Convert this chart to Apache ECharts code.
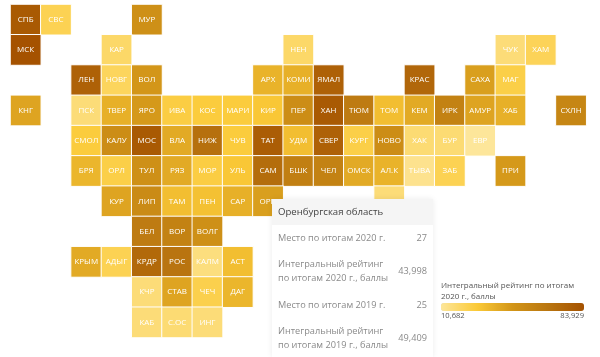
<!DOCTYPE html>
<html>
<head>
<meta charset="utf-8">
<title>Integral rating</title>
<style>
	html, body { margin: 0; padding: 0; background: #fff; }
	#hexmap { width: 600px; height: 357px; }
	.tip { width: 161px; height: 158px; font-family: 'Open Sans', sans-serif; font-size: 9.2px; color: #8a8a8a; }
	.tip-head { height: 26px; line-height: 26px; padding-left: 6px; background: #f5f5f5; color: #444; font-size: 9.6px; }
	.tip-row { display: flex; justify-content: space-between; align-items: center; padding: 0 6px; white-space: normal; line-height: 14px; }
	.tip-row span:first-child { width: 114px; }
</style>
</head>
<body>
<div id="hexmap"></div>
<script src="https://cdn.jsdelivr.net/npm/echarts@6/dist/echarts.min.js"></script>
<script>
	var names = [
		'СПБ', 'СВС', 'МУР',
		'МСК', 'КАР', 'НЕН', 'ЧУК', 'ХАМ',
		'ЛЕН', 'НОВГ', 'ВОЛ', 'АРХ', 'КОМИ', 'ЯМАЛ', 'КРАС', 'САХА', 'МАГ',
		'КНГ', 'ПСК', 'ТВЕР', 'ЯРО', 'ИВА', 'КОС', 'МАРИ', 'КИР', 'ПЕР', 'ХАН', 'ТЮМ', 'ТОМ', 'КЕМ', 'ИРК', 'АМУР', 'ХАБ', 'СХЛН',
		'СМОЛ', 'КАЛУ', 'МОС', 'ВЛА', 'НИЖ', 'ЧУВ', 'ТАТ', 'УДМ', 'СВЕР', 'КУРГ', 'НОВО', 'ХАК', 'БУР', 'ЕВР',
		'БРЯ', 'ОРЛ', 'ТУЛ', 'РЯЗ', 'МОР', 'УЛЬ', 'САМ', 'БШК', 'ЧЕЛ', 'ОМСК', 'АЛ.К', 'ТЫВА', 'ЗАБ', 'ПРИ',
		'КУР', 'ЛИП', 'ТАМ', 'ПЕН', 'САР', 'ОРН', 'АЛТ',
		'БЕЛ', 'ВОР', 'ВОЛГ',
		'КРЫМ', 'АДЫГ', 'КРДР', 'РОС', 'КАЛМ', 'АСТ',
		'КЧР', 'СТАВ', 'ЧЕЧ', 'ДАГ',
		'КАБ', 'С.ОС', 'ИНГ'
	];
	var cols = [
		0, 1, 4,
		0, 3, 9, 16, 17,
		2, 3, 4, 8, 9, 10, 13, 15, 16,
		0, 2, 3, 4, 5, 6, 7, 8, 9, 10, 11, 12, 13, 14, 15, 16, 18,
		2, 3, 4, 5, 6, 7, 8, 9, 10, 11, 12, 13, 14, 15,
		2, 3, 4, 5, 6, 7, 8, 9, 10, 11, 12, 13, 14, 16,
		3, 4, 5, 6, 7, 8, 12,
		4, 5, 6,
		2, 3, 4, 5, 6, 7,
		4, 5, 6, 7,
		4, 5, 6
	];
	var rows = [
		0, 0, 0,
		1, 1, 1, 1, 1,
		2, 2, 2, 2, 2, 2, 2, 2, 2,
		3, 3, 3, 3, 3, 3, 3, 3, 3, 3, 3, 3, 3, 3, 3, 3, 3,
		4, 4, 4, 4, 4, 4, 4, 4, 4, 4, 4, 4, 4, 4,
		5, 5, 5, 5, 5, 5, 5, 5, 5, 5, 5, 5, 5, 5,
		6, 6, 6, 6, 6, 6, 6,
		7, 7, 7,
		8, 8, 8, 8, 8, 8,
		9, 9, 9, 9,
		10, 10, 10
	];
	var scores = [
		80000, 24000, 50000,
		83929, 20000, 20000, 17000, 23000,
		76000, 22000, 47000, 37000, 38000, 76000, 73000, 44000, 26000,
		42000, 17000, 38000, 46000, 27000, 28000, 28000, 30000, 52000, 80000, 62000, 33000, 40000, 58000, 42000, 38000, 56000,
		28000, 52000, 80000, 40000, 68000, 28000, 78000, 33000, 76000, 26000, 52000, 18000, 18000, 10682,
		36000, 26000, 50000, 40000, 27000, 30000, 70000, 60000, 58000, 40000, 37000, 13000, 24000, 46000,
		42000, 53000, 33000, 32000, 38000, 43998, 17000,
		62000, 58000, 50000,
		40000, 24000, 72000, 66000, 16000, 33000,
		17000, 42000, 25000, 36000,
		17000, 18000, 17000
	];
	var colIndex = [0, 1, 2, 3, 4, 5, 6, 7, 8, 9, 10, 11, 12, 13, 14, 15, 16, 17, 18];
	var rowIndex = [0, 1, 2, 3, 4, 5, 6, 7, 8, 9, 10];
	var scoreRange = [10682, 83929];
	var rampColors = ['#fde69a', '#fbca38', '#d29518', '#b97510', '#a55200'];

	var legendTitle = 'Интегральный рейтинг по итогам\n2020 г., баллы';
	var tipRegion = 'ОРН';
	var tipTitle = 'Оренбургская область';
	var tipLabels = ['Место по итогам 2020 г.', 'Интегральный рейтинг по итогам 2020 г., баллы', 'Место по итогам 2019 г.', 'Интегральный рейтинг по итогам 2019 г., баллы'];
	var tipValues = ['27', '43,998', '25', '49,409'];
	var tipHeights = [26, 40, 27, 40];

	var cells = names.map(function(name, i) {
		return { name: name, value: [cols[i], rows[i], scores[i]] };
	});

	function tipHtml() {
		var html = '<div class="tip"><div class="tip-head">' + tipTitle + '</div>';
		tipLabels.forEach(function(label, i) {
			html += '<div class="tip-row" style="height:' + tipHeights[i] + 'px"><span>' + label + '</span><span>' + tipValues[i] + '</span></div>';
		});
		return html + '</div>';
	}

	var chart = echarts.init(document.getElementById('hexmap'));
	var option = {
		animation: false,
		title: {
			text: legendTitle,
			left: 441,
			top: 280,
			padding: 0,
			textStyle: {
				fontFamily: 'Open Sans',
				fontSize: 8,
				fontWeight: 'normal',
				lineHeight: 11,
				color: '#555'
			}
		},
		grid: {
			left: 10.5,
			top: 4.5,
			width: 575.7,
			height: 333
		},
		xAxis: {
			type: 'category',
			data: colIndex,
			show: false
		},
		yAxis: {
			type: 'category',
			data: rowIndex,
			inverse: true,
			show: false
		},
		visualMap: {
			type: 'continuous',
			min: scoreRange[0],
			max: scoreRange[1],
			dimension: 2,
			orient: 'horizontal',
			left: 441,
			top: 303,
			itemWidth: 8,
			itemHeight: 143,
			padding: 0,
			calculable: false,
			hoverLink: false,
			text: ['', ''],
			showLabel: false,
			inRange: { color: rampColors }
		},
		tooltip: {
			trigger: 'item',
			alwaysShowContent: true,
			showContent: true,
			transitionDuration: 0,
			position: [272, 199],
			padding: 0,
			borderWidth: 0,
			backgroundColor: '#fff',
			extraCssText: 'border-radius:0;box-shadow:0 0 6px rgba(0,0,0,0.08);',
			formatter: tipHtml
		},
		graphic: [
			{
				type: 'text',
				left: 441,
				top: 312,
				style: { text: scoreRange[0].toLocaleString('en-US'), fontFamily: 'Open Sans', fontSize: 7.6, fill: '#555' }
			},
			{
				type: 'text',
				right: 16,
				top: 312,
				style: { text: scoreRange[1].toLocaleString('en-US'), fontFamily: 'Open Sans', fontSize: 7.6, fill: '#555' }
			}
		],
		series: [{
			type: 'heatmap',
			data: cells,
			label: {
				show: true,
				formatter: '{b}',
				fontFamily: 'Open Sans',
				fontSize: 8,
				color: '#fff'
			},
			itemStyle: {
				borderColor: '#fff',
				borderWidth: 1
			}
		}]
	};
	chart.setOption(option);
	chart.dispatchAction({ type: 'showTip', seriesIndex: 0, dataIndex: names.indexOf(tipRegion) });
	window.addEventListener('resize', function() {
		chart.resize();
	});
</script>
</body>
</html>
